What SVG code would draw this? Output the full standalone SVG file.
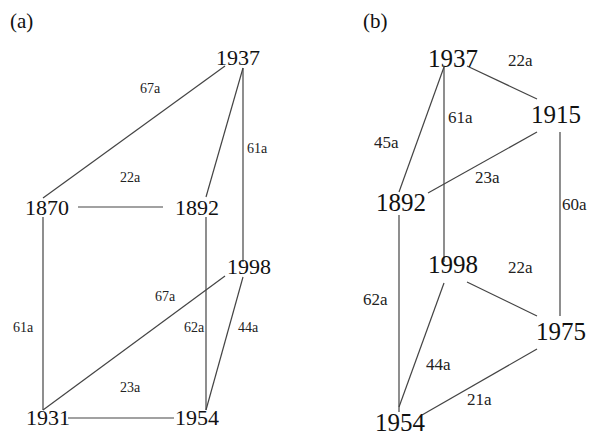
<svg xmlns="http://www.w3.org/2000/svg" width="600" height="436" viewBox="0 0 600 436">
<style>
.bg{fill:#fff}
.e line{stroke:#444;stroke-width:1.2;fill:none}
.n{font-family:"Liberation Serif","Times New Roman",serif;font-size:22px;fill:#111}
.nb{font-family:"Liberation Serif","Times New Roman",serif;font-size:25px;fill:#111}
.l{font-family:"Liberation Serif","Times New Roman",serif;font-size:14px;fill:#222}
.lb{font-family:"Liberation Serif","Times New Roman",serif;font-size:17px;fill:#222}
.p{font-family:"Liberation Serif","Times New Roman",serif;font-size:21px;fill:#111}
</style>
<rect class="bg" width="600" height="436"/>
<text class="p" x="10" y="28">(a)</text>
<text class="p" x="363" y="28">(b)</text>
<g class="e" id="connectors-a">
<line x1="225" y1="66" x2="43" y2="198"/>
<line x1="243" y1="68" x2="206" y2="197"/>
<line x1="243" y1="68" x2="243" y2="262"/>
<line x1="78" y1="207" x2="163" y2="207"/>
<line x1="43" y1="217" x2="43" y2="410"/>
<line x1="206" y1="217" x2="206" y2="410"/>
<line x1="225" y1="276" x2="43" y2="410"/>
<line x1="243" y1="277" x2="206" y2="410"/>
<line x1="68" y1="418" x2="174" y2="418"/>
</g>
<g class="e" id="connectors-b">
<line x1="444" y1="67" x2="399" y2="192"/>
<line x1="444" y1="67" x2="444" y2="262"/>
<line x1="467" y1="66" x2="537" y2="99"/>
<line x1="537" y1="132" x2="428" y2="193"/>
<line x1="560" y1="132" x2="560" y2="316"/>
<line x1="399" y1="215" x2="399" y2="412"/>
<line x1="467" y1="282" x2="537" y2="316"/>
<line x1="444" y1="283" x2="399" y2="407"/>
<line x1="537" y1="349" x2="422" y2="415"/>
</g>
<g id="a-1937"><text class="n" x="216" y="65">1937</text></g>
<g id="a-1870"><text class="n" x="25" y="215">1870</text></g>
<g id="a-1892"><text class="n" x="175" y="215">1892</text></g>
<g id="a-1998"><text class="n" x="227" y="274">1998</text></g>
<g id="a-1931"><text class="n" x="26" y="425">1931</text></g>
<g id="a-1954"><text class="n" x="175" y="425">1954</text></g>
<g id="labels-a">
<text class="l" x="140" y="93">67a</text>
<text class="l" x="120" y="182">22a</text>
<text class="l" x="247" y="153">61a</text>
<text class="l" x="13" y="332">61a</text>
<text class="l" x="155" y="301">67a</text>
<text class="l" x="184" y="332">62a</text>
<text class="l" x="238" y="332">44a</text>
<text class="l" x="120" y="392">23a</text>
</g>
<g id="b-1937"><text class="nb" x="428" y="67">1937</text></g>
<g id="b-1915"><text class="nb" x="531" y="123">1915</text></g>
<g id="b-1892"><text class="nb" x="376" y="211">1892</text></g>
<g id="b-1998"><text class="nb" x="428" y="273">1998</text></g>
<g id="b-1975"><text class="nb" x="536" y="340">1975</text></g>
<g id="b-1954"><text class="nb" x="375" y="431">1954</text></g>
<g id="labels-b">
<text class="lb" x="508" y="66">22a</text>
<text class="lb" x="448" y="123">61a</text>
<text class="lb" x="374" y="148">45a</text>
<text class="lb" x="475" y="183">23a</text>
<text class="lb" x="562" y="210">60a</text>
<text class="lb" x="508" y="273">22a</text>
<text class="lb" x="363" y="305">62a</text>
<text class="lb" x="426" y="370">44a</text>
<text class="lb" x="467" y="405">21a</text>
</g>
</svg>
